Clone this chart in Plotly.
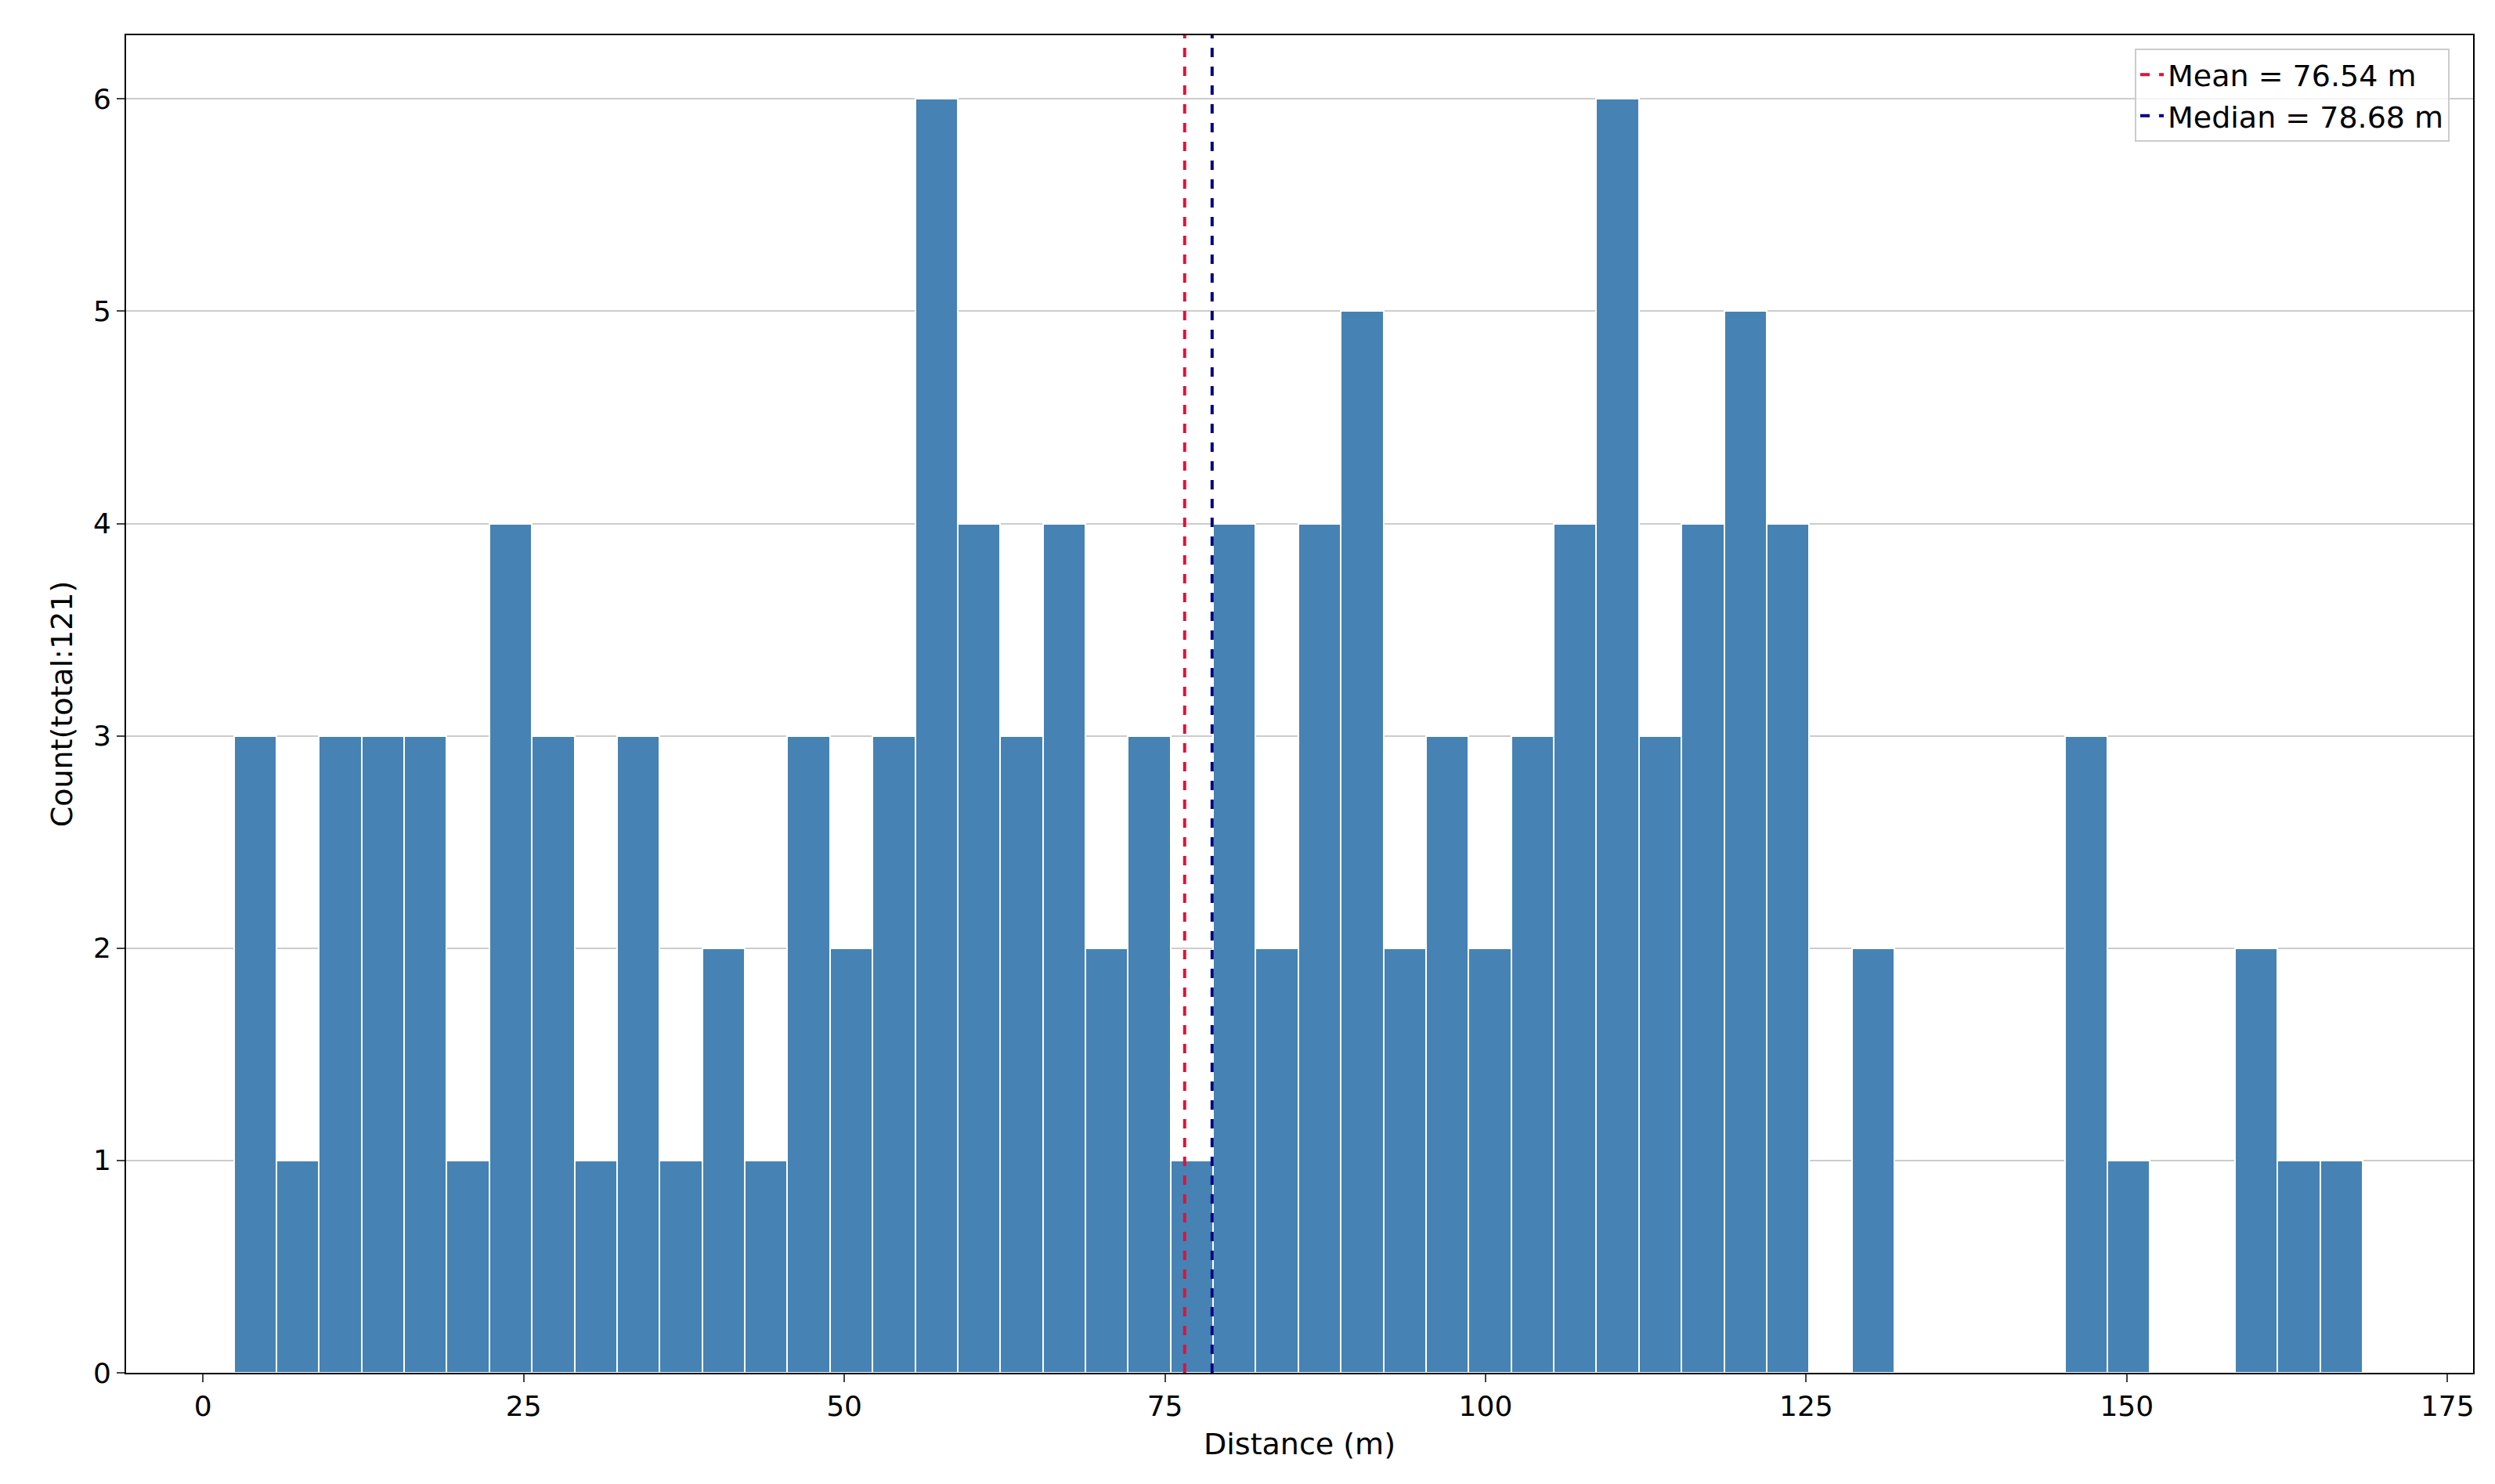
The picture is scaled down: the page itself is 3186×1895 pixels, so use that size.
import plotly.graph_objects as go

# histogram of distances, 50 bins
bin_start = 2.4
bin_width = 3.32
counts = [3, 1, 3, 3, 3, 1, 4, 3, 1, 3,
          1, 2, 1, 3, 2, 3, 6, 4, 3, 4,
          2, 3, 1, 4, 2, 4, 5, 2, 3, 2,
          3, 4, 6, 3, 4, 5, 4, 0, 2, 0,
          0, 0, 0, 3, 1, 0, 0, 2, 1, 1]
mean_val = 76.54
median_val = 78.68
x_ticks = [0, 25, 50, 75, 100, 125, 150, 175]
y_ticks = [0, 1, 2, 3, 4, 5, 6]

fig = go.Figure()
fig.add_trace(go.Bar(
    x0=bin_start + bin_width / 2, dx=bin_width, y=counts,
    width=bin_width, marker=dict(color="#4682B4", line=dict(color="white", width=2)),
    showlegend=False,
))
fig.add_trace(go.Scatter(x=[mean_val, mean_val], y=[0, 6.3], mode="lines",
                         line=dict(color="#DC143C", dash="dash", width=4),
                         name=f"Mean = {mean_val:.2f} m"))
fig.add_trace(go.Scatter(x=[median_val, median_val], y=[0, 6.3], mode="lines",
                         line=dict(color="#000080", dash="dash", width=4),
                         name=f"Median = {median_val:.2f} m"))

fig.update_layout(
    width=3186, height=1895,
    template="plotly_white",
    font=dict(family="DejaVu Sans", size=36, color="#000000"),
    margin=dict(l=153, r=36, t=37, b=150),
    bargap=0,
    legend=dict(x=0.99, y=0.99, xanchor="right", yanchor="top",
                bgcolor="rgba(255,255,255,0.8)", bordercolor="#cccccc", borderwidth=2,
                font=dict(size=38)),
    xaxis=dict(range=[-6, 177], tickvals=x_ticks, showgrid=False, zeroline=False,
               showline=True, linecolor="black", linewidth=2, mirror=True,
               ticks="outside", ticklen=10, tickwidth=2,
               title=dict(text="Distance (m)", font=dict(size=38))),
    yaxis=dict(range=[0, 6.3], tickvals=y_ticks, showgrid=True, gridcolor="#cccccc",
               gridwidth=2, zeroline=False,
               showline=True, linecolor="black", linewidth=2, mirror=True,
               ticks="outside", ticklen=10, tickwidth=2,
               title=dict(text="Count(total:121)", font=dict(size=38))),
)

fig.write_html("out.html")
